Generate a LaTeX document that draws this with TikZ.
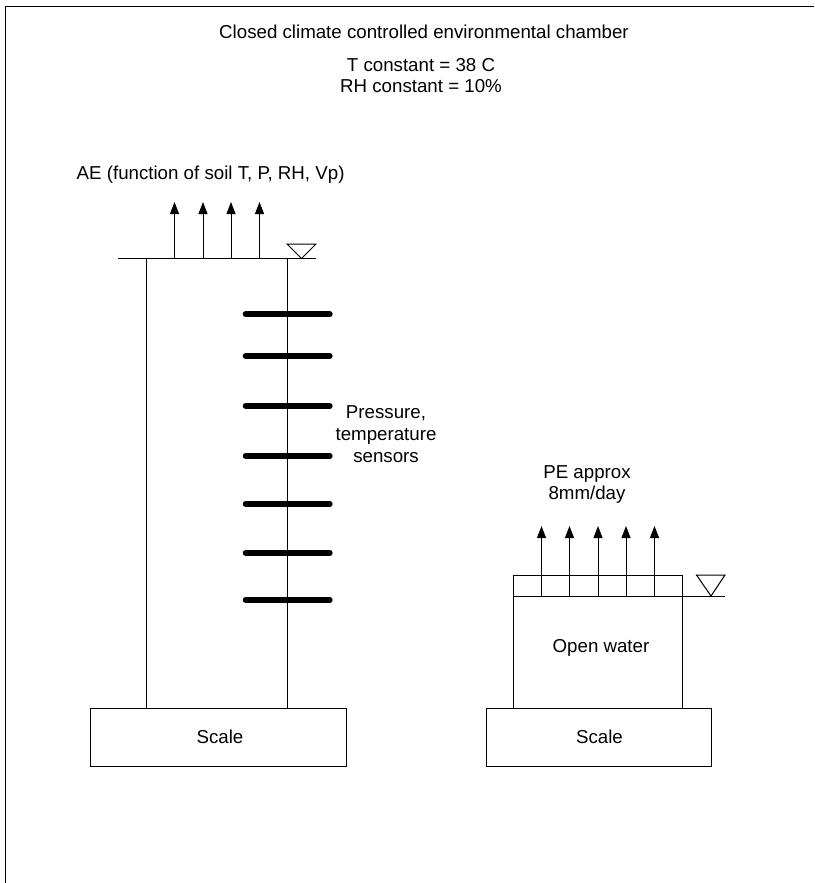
\documentclass[tikz,border=0pt]{standalone}
\usepackage{fontspec}
\setmainfont{Liberation Sans}
\usetikzlibrary{arrows.meta}
\tikzset{
  ln/.style={draw=black,line width=1pt},
  lbl/.style={font=\fontsize{18.7}{21.7}\selectfont,align=center,inner sep=0pt,text=black},
  flux/.style={ln,-{Triangle[length=12pt,width=9pt]}},
  sensor/.style={draw=black,line width=6pt,line cap=round},
  wl/.style={ln,line join=miter,fill=white},
  scalebox/.style={lbl,ln,minimum height=58pt,inner sep=0pt}
}
\begin{document}
\begin{tikzpicture}[x=1pt,y=-1pt]
\useasboundingbox (0,0) rectangle (814,883);
\fill[white] (0,0) rectangle (814,883);
% chamber
\draw[ln] (5.5,883) -- (5.5,6.5) -- (814,6.5);
% labels
\node[lbl,anchor=base] (title) at (424,39) {Closed climate controlled environmental chamber};
\node[lbl] (cond) at (421,75.5) {T constant = 38 C\\RH constant = 10\%};
\node[lbl,anchor=base west] (ae) at (76.5,179) {AE (function of soil T, P, RH, Vp)};
\node[lbl] (sens) at (386,434) {Pressure,\\temperature\\sensors};
\node[lbl] (pe) at (587,484.5) {PE approx\\8mm/day};
% soil column
\coordinate (gl) at (118,258.5);
\coordinate (gr) at (316,258.5);
\draw[ln] (gl) -- (gr);
\draw[ln] (146.5,258.5) -- (146.5,708);
\draw[ln] (287.5,258.5) -- (287.5,708);
\draw[wl] (287,244) -- (316,244) -- (301.5,258.5) -- cycle;
\foreach \x in {174.5,203,231,259.5} \draw[flux] (\x,258.5) -- (\x,202);
\foreach \y in {314.3,356,406,456,504,553,600} \draw[sensor] (245.7,\y) -- (329.7,\y);
% water column
\draw[ln] (513,708) -- (513,575) -- (682.5,575) -- (682.5,708);
\draw[ln] (513,596) -- (725,596);
\draw[wl] (696.5,575) -- (725,575) -- (711,596) -- cycle;
\foreach \x in {541.5,569.5,598,626,654.5} \draw[flux] (\x,596) -- (\x,526);
\node[lbl,anchor=base] (ow) at (601,652) {Open water};
% scales
\node[scalebox,minimum width=255.5pt] (s1) at (218.25,737) {};
\node[lbl,anchor=base] (s1t) at (220,743) {Scale};
\node[scalebox,minimum width=225pt] (s2) at (599,737) {};
\node[lbl,anchor=base] (s2t) at (599.5,743) {Scale};
\end{tikzpicture}
\end{document}
